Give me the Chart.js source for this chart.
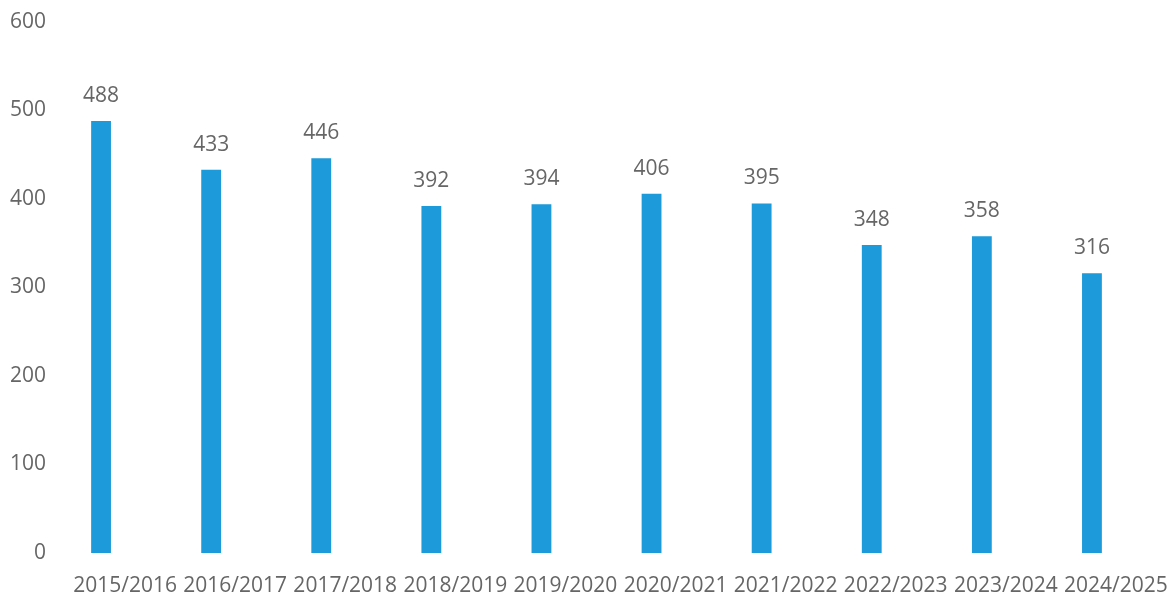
<!DOCTYPE html>
<html>
<head>
<meta charset="utf-8">
<script src="https://cdn.jsdelivr.net/npm/chart.js@4"></script>
<style>
html,body{margin:0;padding:0;background:#fff;}
#wrap{width:1174px;height:597px;}
</style>
</head>
<body>
<div id="wrap"><canvas id="c"></canvas></div>
<script>
const categories = ["2015/2016","2016/2017","2017/2018","2018/2019","2019/2020","2020/2021","2021/2022","2022/2023","2023/2024","2024/2025"];
const values = [488, 433, 446, 392, 394, 406, 395, 348, 358, 316];
const yTicks = [0, 100, 200, 300, 400, 500, 600];

const TEXT = '#666666';
const FONT = '"Open Sans", sans-serif';

const valueLabels = {
  id: 'valueLabels',
  afterDatasetsDraw(chart) {
    const ctx = chart.ctx;
    const meta = chart.getDatasetMeta(0);
    ctx.save();
    ctx.fillStyle = TEXT;
    ctx.font = '21px ' + FONT;
    ctx.textAlign = 'center';
    ctx.textBaseline = 'middle';
    meta.data.forEach((bar, i) => {
      ctx.fillText(String(values[i]), bar.x, bar.y - 25);
    });
    ctx.restore();
  }
};

new Chart(document.getElementById('c'), {
  type: 'bar',
  data: {
    labels: categories,
    datasets: [{
      data: values,
      backgroundColor: '#1d9ad9',
      borderWidth: 0,
      barPercentage: 0.9,
      categoryPercentage: 0.2
    }]
  },
  options: {
    responsive: true,
    maintainAspectRatio: false,
    animation: false,
    layout: { padding: { top: 22, right: 27, left: 0, bottom: 0 } },
    plugins: { legend: { display: false }, tooltip: { enabled: false } },
    scales: {
      x: {
        grid: { display: false, drawTicks: false },
        border: { display: false },
        ticks: { color: TEXT, font: { family: FONT, size: 21 }, padding: 20, labelOffset: 24, maxRotation: 0, autoSkip: false },
        afterFit(s) { s.height = 44; }
      },
      y: {
        min: 0, max: 600,
        afterBuildTicks(s) { s.ticks = yTicks.map(v => ({ value: v })); },
        grid: { display: false, drawTicks: false },
        border: { display: false },
        ticks: { color: TEXT, font: { family: FONT, size: 21 }, padding: 0 },
        afterFit(s) { s.width = 46; }
      }
    }
  },
  plugins: [valueLabels]
});
</script>
</body>
</html>
